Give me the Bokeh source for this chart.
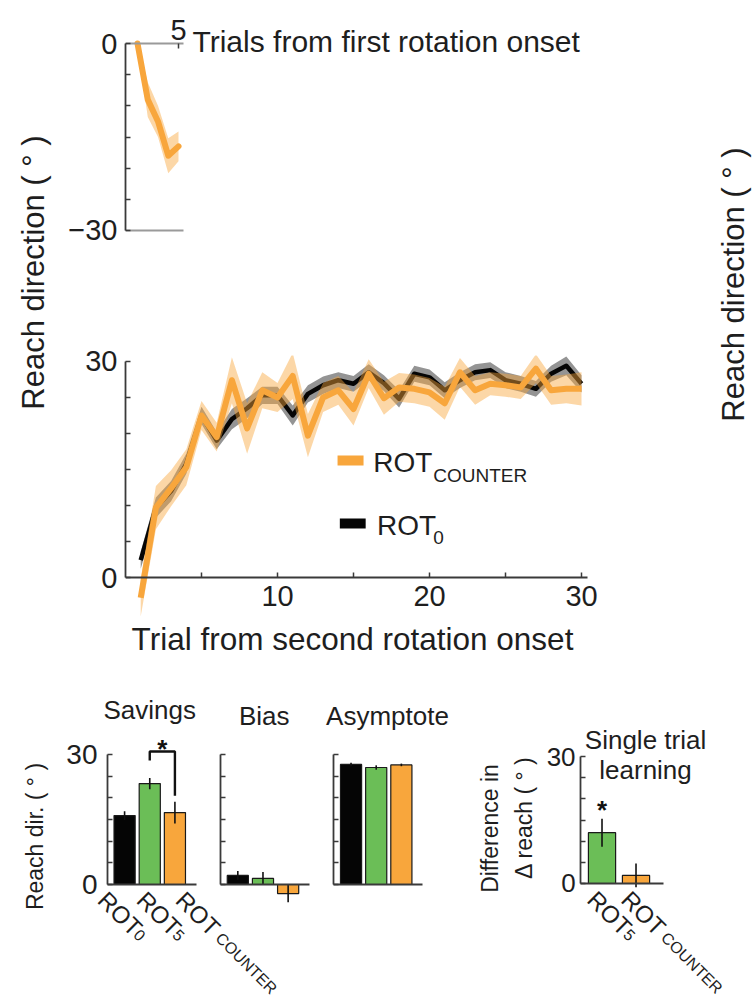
import math

from bokeh.core.properties import value
from bokeh.embed import file_html
from bokeh.layouts import column, row
from bokeh.models import ColumnDataSource, FixedTicker, Label, LinearAxis, Range1d
from bokeh.plotting import figure
from bokeh.resources import INLINE

FONT = "Liberation Sans"
TEXT = "#1e1e1e"
AXIS = "#3a3a3a"
ORANGE = "#F8A63C"
GREEN = "#6BBE57"
BLACK = "#050505"

# ---------------- data ----------------
# first rotation (ROT_COUNTER group), first five trials
first_trial = [1, 2, 3, 4, 5]
first_counter = [0.0, -9.0, -12.5, -18.0, -16.5]
first_counter_sem = [0.4, 2.8, 2.5, 2.8, 2.4]

# second rotation, trials 1..30
trial = list(range(1, 31))
rot0 = [2.4, 9.7, 12.0, 15.8, 22.5, 19.0, 22.0, 23.5, 25.3, 25.3,
        22.5, 25.5, 26.7, 27.4, 26.9, 28.5, 27.0, 24.8, 28.3, 27.8,
        26.0, 27.4, 28.5, 28.8, 27.4, 26.9, 26.2, 28.3, 29.4, 26.9]
rot0_sem = [1.2, 1.4, 1.4, 1.4, 1.2, 1.2, 1.4, 1.4, 1.2, 1.2,
            1.4, 1.2, 1.2, 1.1, 1.1, 1.1, 1.1, 1.2, 1.1, 1.1,
            1.1, 1.1, 1.1, 1.1, 1.1, 1.1, 1.1, 1.1, 1.3, 1.2]
rot_counter = [-2.8, 9.7, 12.4, 15.3, 22.5, 19.5, 27.4, 20.7, 26.0, 25.0,
               28.0, 19.7, 25.0, 26.0, 23.4, 28.3, 24.9, 26.4, 26.2, 25.7,
               24.2, 28.5, 26.0, 26.9, 26.7, 26.4, 29.0, 26.0, 26.2, 26.2]
rot_counter_sem = [2.6, 3.0, 2.5, 2.5, 2.0, 2.0, 3.2, 3.5, 2.5, 2.0,
                   3.2, 3.0, 2.0, 2.0, 2.3, 2.0, 2.3, 2.0, 2.0, 2.0,
                   2.3, 2.0, 2.0, 1.6, 1.6, 1.6, 2.0, 2.0, 2.0, 2.3]

# summary measures
condition_base = ["ROT", "ROT", "ROT"]
condition_sub = ["0", "5", "COUNTER"]
condition_color = [BLACK, GREEN, ORANGE]
panel_titles = ["Savings", "Bias", "Asymptote"]
savings = [15.9, 23.3, 16.6]
savings_err = [1.0, 1.3, 2.5]
bias = [2.1, 1.4, -2.1]
bias_err = [1.0, 1.5, 2.0]
asymptote = [27.7, 27.0, 27.6]
asymptote_err = [0.4, 0.5, 0.3]

single_base = ["ROT", "ROT"]
single_sub = ["5", "COUNTER"]
single_color = [GREEN, ORANGE]
single_trial = [12.0, 1.9]
single_trial_err = [3.3, 2.8]


# ---------------- helpers ----------------
def blank(width, height, xr, yr, **kw):
    p = figure(width=width, height=height, x_range=xr, y_range=yr,
               output_backend="svg", toolbar_location=None,
               x_axis_location=None, y_axis_location=None,
               outline_line_color=None, background_fill_color="white",
               border_fill_color="white", **kw)
    p.grid.visible = False
    return p


def style_axis(ax, size="29px", color=AXIS, width=1.8):
    ax.axis_line_color = color
    ax.axis_line_width = width
    ax.major_tick_line_color = AXIS
    ax.minor_tick_line_color = AXIS
    ax.major_tick_line_width = 1.5
    ax.minor_tick_line_width = 1.5
    ax.major_tick_in = 5
    ax.major_tick_out = 0
    ax.minor_tick_in = 5
    ax.minor_tick_out = 0
    ax.major_label_text_font = FONT
    ax.major_label_text_font_size = size
    ax.major_label_text_color = TEXT
    ax.axis_label_text_font = FONT
    ax.axis_label_text_font_style = "normal"
    ax.axis_label_text_color = TEXT
    return ax


def screen_label(x, y, text, size, angle=0.0, align="left", baseline="alphabetic"):
    # x, y are measured from the lower-left corner of the plot frame
    return Label(x=x, y=y, x_units="screen", y_units="screen", text=text,
                 angle=angle, text_align=align, text_baseline=baseline,
                 text_font=FONT, text_font_size=size, text_color=TEXT)


def side_label(width, height, x, y, text, size):
    p = blank(width, height, Range1d(0, 1), Range1d(0, 1), min_border=0)
    p.add_layout(screen_label(x, y, text, size, math.pi / 2, "center", "middle"))
    return p


def band(vals, sems):
    return ([v - s for v, s in zip(vals, sems)],
            [v + s for v, s in zip(vals, sems)])


# both upper panels share the same left/right borders
BORDER_L, BORDER_R = 65, 50

# ---------------- first rotation inset ----------------
inset = blank(630, 320, Range1d(-0.171, 50.07), Range1d(-44.44, 6.90),
              min_border_left=BORDER_L, min_border_right=BORDER_R,
              min_border_top=0, min_border_bottom=0)
lo, hi = band(first_counter, first_counter_sem)
inset.varea(x=first_trial, y1=lo, y2=hi, fill_color=ORANGE, fill_alpha=0.45)
inset.line(first_trial, first_counter, line_color=ORANGE, line_width=6,
           line_join="round", line_cap="round")

ax = style_axis(LinearAxis(ticker=FixedTicker(ticks=[-30, 0], minor_ticks=[-25, -20, -15, -10, -5]),
                           bounds=(-30, 0)))
ax.major_label_standoff = 8
inset.add_layout(ax, "left")
ax = style_axis(LinearAxis(ticker=FixedTicker(ticks=[5], minor_ticks=[]), fixed_location=0,
                           bounds=(-0.171, 5.49)), color="#9a9a9a", width=2)
ax.major_label_standoff = 4
inset.add_layout(ax, "above")
ax = style_axis(LinearAxis(ticker=FixedTicker(ticks=[], minor_ticks=[]), fixed_location=-30,
                           bounds=(-0.171, 5.49)), color="#9a9a9a", width=2)
ax.major_label_text_color = None
inset.add_layout(ax, "below")
inset.add_layout(screen_label(67, 279, "Trials from first rotation onset", "30px"))

# ---------------- second rotation learning curves ----------------
main = blank(630, 345, Range1d(0, 33.88), Range1d(-12.22, 30.83),
             min_border_left=BORDER_L, min_border_right=BORDER_R,
             min_border_top=35, min_border_bottom=0)
lo, hi = band(rot0, rot0_sem)
main.varea(x=trial, y1=lo, y2=hi, fill_color="#2a2a2a", fill_alpha=0.5)
main.line(trial, rot0, line_color=BLACK, line_width=4.5, line_join="round")
lo, hi = band(rot_counter, rot_counter_sem)
main.varea(x=trial, y1=lo, y2=hi, fill_color=ORANGE, fill_alpha=0.45)
main.line(trial, rot_counter, line_color=ORANGE, line_width=6, line_join="round")

ax = style_axis(LinearAxis(ticker=FixedTicker(ticks=[0, 30], minor_ticks=[5, 10, 15, 20, 25]),
                           bounds=(0, 30)))
ax.major_label_standoff = 8
main.add_layout(ax, "left")
ax = style_axis(LinearAxis(ticker=FixedTicker(ticks=[10, 20, 30], minor_ticks=[5, 15, 25]),
                           bounds=(0, 30.4), fixed_location=0))
ax.major_label_standoff = 8
main.add_layout(ax, "below")
main.add_layout(screen_label(227, 27, "Trial from second rotation onset", "31.5px", align="center"))

# legend
main.segment(x0=[13.95, 14.1], y0=[16.25, 7.5], x1=[15.66, 15.8], y1=[16.25, 7.5],
             line_color=[ORANGE, BLACK], line_width=10)
main.text(x=[16.3, 16.55], y=[16.0, 7.2], text=["ROT", "ROT"], text_font=value(FONT),
          text_font_size=value("28px"), text_color=TEXT, text_baseline="alphabetic")
main.text(x=[20.25, 20.25], y=[14.1, 5.6], text=["COUNTER", "0"], text_font=value(FONT),
          text_font_size=value("19px"), text_color=TEXT, text_baseline="alphabetic")

# ---------------- summary bars: savings, bias, asymptote ----------------
GROUP_STEP = 4.5
AXIS_X = -0.68
AXIS_END = 2.85
TITLE_SHIFT = [0.0, 0.05, 0.45]
sba = blank(450, 338, Range1d(-4.932, 12.953), Range1d(-27.46, 50.54), min_border=0)

measures = [(savings, savings_err), (bias, bias_err), (asymptote, asymptote_err)]
for g, ((vals, errs), title) in enumerate(zip(measures, panel_titles)):
    x0 = g * GROUP_STEP
    xs = [x0 + i for i in range(len(vals))]
    src = ColumnDataSource(dict(x=xs, top=vals, color=condition_color,
                                lo=[v - e for v, e in zip(vals, errs)],
                                hi=[v + e for v, e in zip(vals, errs)]))
    sba.vbar(x="x", top="top", bottom=0, width=0.84, fill_color="color",
             line_color="#1a1a1a", line_width=1.2, source=src)
    sba.segment(x0="x", y0="lo", x1="x", y1="hi", line_color="#111111",
                line_width=1.6, source=src)
    yax = style_axis(LinearAxis(ticker=FixedTicker(ticks=[0, 30], minor_ticks=[5, 10, 15, 20, 25]),
                                bounds=(0, 30), fixed_location=x0 + AXIS_X), size="28px")
    yax.major_label_standoff = 10
    if g > 0:
        yax.major_label_text_color = None
    sba.add_layout(yax, "left")
    xax = style_axis(LinearAxis(ticker=FixedTicker(ticks=[], minor_ticks=[]),
                                bounds=(x0 + AXIS_X, x0 + AXIS_END), fixed_location=0))
    xax.major_label_text_color = None
    sba.add_layout(xax, "below")
    sba.text(x=[x0 + 1 + TITLE_SHIFT[g]], y=[40.3 if g == 0 else 39.0], text=[title],
             text_font=value(FONT), text_font_size=value("26px"), text_color=TEXT,
             text_align="center", text_baseline="alphabetic")

# rotated condition labels under the savings panel
LABEL_Y = -2.6
lab_x = [0.66 + (i - 1) * 1.55 for i in range(3)]
sba.text(x=lab_x, y=[LABEL_Y] * 3, text=condition_base, angle=-math.pi / 4,
         text_font=value(FONT), text_font_size=value("24px"), text_color=TEXT,
         text_align="left", text_baseline="alphabetic")
sub_shift = [50, 50, 55]
sba.text(x=lab_x, y=[LABEL_Y] * 3, text=condition_sub, angle=-math.pi / 4,
         x_offset=[0.707 * (s - 1) for s in sub_shift],
         y_offset=[0.707 * (s + 1) for s in sub_shift],
         text_font=value(FONT), text_font_size=value("16px"), text_color=TEXT,
         text_align="left", text_baseline="alphabetic")

# significance bracket between ROT5 and ROT COUNTER savings
top_y = 30.7
sba.line(x=[1, 1, 2, 2],
         y=[savings[1] + savings_err[1] + 4.0, top_y, top_y, savings[2] + savings_err[2] + 1.4],
         line_color="#111111", line_width=2.4)
sba.text(x=[1.5], y=[31.3], text=["*"], text_font=value(FONT), text_font_size=value("26px"),
         text_font_style="bold", text_color="#111111", text_align="center", text_baseline="middle")

sba.add_layout(screen_label(34, 167, "Reach dir. ( ° )", "23px", math.pi / 2, "center", "middle"))

# ---------------- single trial learning ----------------
ST_AXIS_X = -0.63
st = blank(302, 338, Range1d(-4.456, 4.426), Range1d(-28.35, 51.5), min_border=0)
xs = list(range(len(single_trial)))
src = ColumnDataSource(dict(x=xs, top=single_trial, color=single_color,
                            lo=[v - e for v, e in zip(single_trial, single_trial_err)],
                            hi=[v + e for v, e in zip(single_trial, single_trial_err)]))
st.vbar(x="x", top="top", bottom=0, width=0.8, fill_color="color",
        line_color="#1a1a1a", line_width=1.2, source=src)
st.segment(x0="x", y0="lo", x1="x", y1="hi", line_color="#111111", line_width=1.6, source=src)
yax = style_axis(LinearAxis(ticker=FixedTicker(ticks=[0, 30], minor_ticks=[5, 10, 15, 20, 25]),
                            bounds=(0, 30), fixed_location=ST_AXIS_X), size="26px")
yax.major_label_standoff = 5
st.add_layout(yax, "left")
xax = style_axis(LinearAxis(ticker=FixedTicker(ticks=[], minor_ticks=[]),
                            bounds=(ST_AXIS_X, 1.81), fixed_location=0))
xax.major_label_text_color = None
st.add_layout(xax, "below")
st.text(x=[0], y=[single_trial[0] + single_trial_err[0] + 2.1], text=["*"], text_font=value(FONT),
        text_font_size=value("26px"), text_font_style="bold", text_color="#111111",
        text_align="center", text_baseline="middle")
st.text(x=[1.28, 1.28], y=[33.8, 26.9], text=["Single trial", "learning"], text_font=value(FONT),
        text_font_size=value("26px"), text_color=TEXT, text_align="center",
        text_baseline="alphabetic")

ST_LABEL_Y = -2.8
st_lab_x = [x - 0.3 for x in xs]
st.text(x=st_lab_x, y=[ST_LABEL_Y] * 2, text=single_base, angle=-math.pi / 4,
        text_font=value(FONT), text_font_size=value("24px"), text_color=TEXT,
        text_align="left", text_baseline="alphabetic")
st_shift = [50, 55]
st.text(x=st_lab_x, y=[ST_LABEL_Y] * 2, text=single_sub, angle=-math.pi / 4,
        x_offset=[0.707 * (s - 1) for s in st_shift],
        y_offset=[0.707 * (s + 1) for s in st_shift],
        text_font=value(FONT), text_font_size=value("16px"), text_color=TEXT,
        text_align="left", text_baseline="alphabetic")
for lx, ly, txt in [(39, 175, "Difference in"), (73, 186, "Δ reach ( ° )")]:
    st.add_layout(screen_label(lx, ly, txt, "23px", math.pi / 2, "center", "middle"))

# ---------------- page ----------------
left = side_label(60, 665, 33, 393, "Reach direction ( ° )", "31px")
right = side_label(62, 665, 43, 381, "Reach direction ( ° )", "31px")

page = column(row(left, column(inset, main), right), row(sba, st))
open("out.html", "w").write(file_html(page, INLINE))
